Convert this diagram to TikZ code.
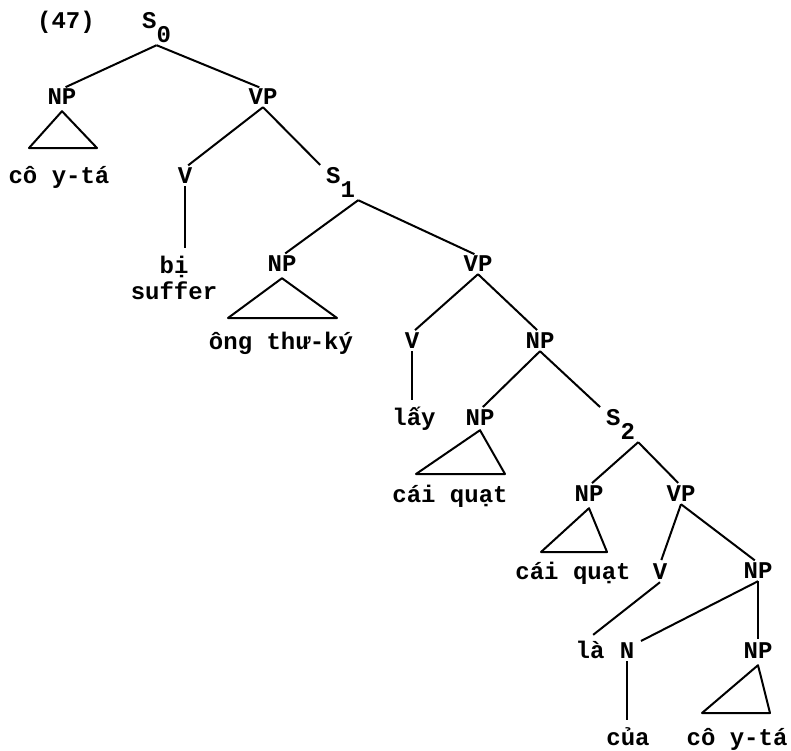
\documentclass[tikz,border=0pt]{standalone}
\usepackage{fontspec}
\newfontfamily\catfont{Liberation Mono}
\newfontfamily\wordfont{Liberation Mono}
\newcommand{\subidx}[1]{\raisebox{-14pt}{#1}}

\tikzset{
    cat/.style={font=\catfont\bfseries\fontsize{24}{28}\selectfont,
        text height=12pt, text depth=0pt, inner sep=3pt},
    snode/.style={cat, text depth=14pt, anchor=base west},
    word/.style={font=\wordfont\bfseries\fontsize{24}{28}\selectfont,
        text height=18pt, text depth=5pt, inner sep=3pt},
    branch/.style={line width=2pt, shorten >=4pt},
    roof/.style={line width=2pt, line join=round},
}

\begin{document}
\begin{tikzpicture}[x=1pt,y=-1pt]
    \useasboundingbox (0,0) rectangle (791,750);

    % Category labels
    % -- top
    \node[cat] (exnum) at (66,22) {(47)};
    \node[snode] (s0) at (139,28) {S\subidx{0}};
    \node[cat] (np0) at (62,98) {NP};
    \node[cat] (vp0) at (263,98) {VP};
    \node[cat] (v0) at (185,177) {V};
    \node[snode] (s1) at (323,183) {S\subidx{1}};

    % -- middle
    \node[cat] (np1) at (282,265) {NP};
    \node[cat] (vp1) at (478,265) {VP};
    \node[cat] (v1) at (412,342) {V};
    \node[cat] (np2) at (540,342) {NP};
    \node[cat] (np3) at (480,419) {NP};
    \node[snode] (s2) at (603,425) {S\subidx{2}};

    % -- bottom
    \node[cat] (np4) at (589,495) {NP};
    \node[cat] (vp2) at (681,495) {VP};
    \node[cat] (v2) at (660,573) {V};
    \node[cat] (np5) at (758,572) {NP};
    \node[cat] (n0) at (627,652) {N};
    \node[cat] (np6) at (758,652) {NP};

    % Words
    \node[word] (cy0) at (59,177) {cô y-tá};
    \node[word] (bi) at (174,267) {bị};
    \node[word] (suffer) at (174,293) {suffer};
    \node[word] (ong) at (281,343) {ông thư-ký};
    \node[word] (lay) at (414,419) {lấy};
    \node[word] (quat0) at (450,496) {cái quạt};
    \node[word] (quat1) at (573,573) {cái quạt};
    \node[word] (la) at (590,652) {là};
    \node[word] (cua) at (628,739) {của};
    \node[word] (cy1) at (737,739) {cô y-tá};

    % Branches
    \draw[branch] (s0.south) -- (np0.north);
    \draw[branch] (s0.south) -- (vp0.north);
    \draw[branch] (vp0.south) -- (v0.north);
    \draw[branch] (vp0.south) -- (s1.north west);
    \draw[branch] (v0.south) -- (v0.south |- bi.north);
    \draw[branch] (s1.south east) -- (np1.north);
    \draw[branch] (s1.south east) -- (vp1.north);
    \draw[branch] (vp1.south) -- (v1.north);
    \draw[branch] (vp1.south) -- (np2.north);
    \draw[branch] (v1.south) -- (v1.south |- lay.north);
    \draw[branch] (np2.south) -- (np3.north);
    \draw[branch] (np2.south) -- (s2.north west);
    \draw[branch] (s2.south east) -- (np4.north);
    \draw[branch] (s2.south east) -- (vp2.north);
    \draw[branch] (vp2.south) -- (v2.north);
    \draw[branch] (vp2.south) -- (np5.north);
    \draw[branch] (v2.south) -- (la.north);
    \draw[branch] (np5.south) -- (n0.north east);
    \draw[branch] (np5.south) -- (np6.north);
    \draw[branch] (n0.south) -- (n0.south |- cua.north);

    % Triangles over unanalysed NPs
    \draw[roof] ([yshift=-4pt]np0.south) -- (29,148) -- (97,148) -- cycle;
    \draw[roof] ([yshift=-4pt]np1.south) -- (228,318) -- (337,318) -- cycle;
    \draw[roof] ([yshift=-2pt]np3.south) -- (416,474) -- (505,474) -- cycle;
    \draw[roof] ([yshift=-4pt]np4.south) -- (541,552) -- (607,552) -- cycle;
    \draw[roof] ([yshift=-4pt]np6.south) -- (702,713) -- (770,713) -- cycle;
\end{tikzpicture}
\end{document}
